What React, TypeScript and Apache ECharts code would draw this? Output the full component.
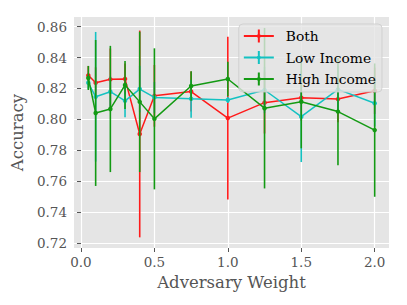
import React, { useEffect, useRef } from "react";
import * as echarts from "echarts";

const weights = [0.05, 0.1, 0.2, 0.3, 0.4, 0.5, 0.75, 1.0, 1.25, 1.5, 1.75, 2.0];

const bothMean = [0.8285, 0.8237, 0.8259, 0.8262, 0.7905, 0.8152, 0.8180, 0.8008, 0.8108, 0.8140, 0.8131, 0.8185];
const bothErr = [0.006, 0.01, 0.02, 0.01, 0.067, 0.02, 0.013, 0.0527, 0.02, 0.015, 0.015, 0.015];

const lowMean = [0.8237, 0.8146, 0.8179, 0.8120, 0.8196, 0.8142, 0.8133, 0.8125, 0.8190, 0.8017, 0.8194, 0.8104];
const lowErr = [0.004, 0.042, 0.01, 0.0107, 0.015, 0.01, 0.0123, 0.002, 0.015, 0.0294, 0.015, 0.015];

const highMean = [0.8268, 0.8041, 0.8067, 0.8222, 0.8113, 0.8003, 0.8216, 0.8261, 0.8072, 0.8114, 0.8050, 0.7930];
const highErr = [0.0078, 0.0473, 0.0409, 0.0156, 0.0455, 0.0457, 0.0095, 0.0112, 0.052, 0.0302, 0.0348, 0.0432];

const seriesNames = ["Both", "Low Income", "High Income"];
const seriesColors = ["#ff1a1a", "#14c2c2", "#139a13"];

const xTicks = [0, 0.5, 1.0, 1.5, 2.0];
const yTicks = [0.72, 0.74, 0.76, 0.78, 0.8, 0.82, 0.84, 0.86];

const FONT = "'DejaVu Serif', serif";
const TEXT = "#555555";

const legendIcon =
  "path://M0,5.5h30v2h-30z M14,0h2v13h-2z M13,6.5a2,2 0 1,1 4,0a2,2 0 1,1 -4,0z";

function buildSeries() {
  const means = [bothMean, lowMean, highMean];
  const errs = [bothErr, lowErr, highErr];
  const out: any[] = [];
  means.forEach((m, i) => {
    const color = seriesColors[i];
    out.push({
      type: "line",
      name: seriesNames[i],
      data: weights.map((w, k) => [w, m[k]]),
      symbol: "circle",
      symbolSize: 4.5,
      showSymbol: true,
      lineStyle: { color, width: 1.5 },
      itemStyle: { color, borderWidth: 0 },
      z: 2 + i * 0.01,
    });
    out.push({
      type: "custom",
      name: seriesNames[i] + " err",
      data: weights.map((w, k) => [w, m[k] - errs[i][k], m[k] + errs[i][k]]),
      encode: { x: 0, y: [1, 2] },
      renderItem: (_params: any, api: any) => {
        const x = api.value(0);
        const p1 = api.coord([x, api.value(1)]);
        const p2 = api.coord([x, api.value(2)]);
        return {
          type: "line",
          shape: { x1: p1[0], y1: p1[1], x2: p2[0], y2: p2[1] },
          style: { stroke: color, lineWidth: 1.6 },
        };
      },
      z: 2 + i * 0.01,
    });
  });
  return out;
}

export default function App() {
  const ref = useRef<HTMLDivElement>(null);
  useEffect(() => {
    if (!ref.current) return;
    const chart = echarts.init(ref.current, undefined, { renderer: "svg" });
    chart.setOption({
      animation: false,
      backgroundColor: "#ffffff",
      grid: {
        left: 74,
        right: 18,
        top: 17,
        bottom: 57,
        show: true,
        backgroundColor: "#E5E5E5",
        borderWidth: 0,
      },
      legend: {
        data: seriesNames.map((n) => ({ name: n, icon: legendIcon })),
        orient: "vertical",
        right: 25,
        top: 24,
        itemWidth: 30,
        itemHeight: 13,
        itemGap: 7.5,
        padding: [5, 6, 6, 5],
        backgroundColor: "rgba(229,229,229,0.8)",
        borderColor: "rgba(204,204,204,0.8)",
        borderWidth: 1,
        borderRadius: 4,
        itemStyle: { borderWidth: 0 },
        textStyle: { fontFamily: FONT, fontSize: 13.8, color: "#000", padding: [0, 0, 0, 7] },
        selectedMode: false,
      },
      xAxis: {
        type: "value",
        min: -0.0475,
        max: 2.0975,
        name: "Adversary Weight",
        nameLocation: "middle",
        nameGap: 22,
        nameTextStyle: { fontFamily: FONT, fontSize: 16.5, color: TEXT },
        axisLine: { show: false },
        axisTick: { show: true, length: 4, lineStyle: { color: TEXT }, customValues: xTicks },
        axisLabel: {
          fontFamily: FONT,
          fontSize: 13.5,
          color: TEXT,
          margin: 7,
          customValues: xTicks,
          formatter: (v: number) => v.toFixed(1),
        },
        splitLine: { show: true, lineStyle: { color: "#ffffff", width: 1.2 } },
      },
      yAxis: {
        type: "value",
        min: 0.7166,
        max: 0.8663,
        name: "Accuracy",
        nameLocation: "middle",
        nameGap: 43,
        nameTextStyle: { fontFamily: FONT, fontSize: 16.5, color: TEXT },
        axisLine: { show: false },
        axisTick: { show: true, length: 4, lineStyle: { color: TEXT }, customValues: yTicks },
        axisLabel: {
          fontFamily: FONT,
          fontSize: 13.5,
          color: TEXT,
          margin: 7,
          customValues: yTicks,
          formatter: (v: number) => v.toFixed(2),
        },
        splitLine: { show: true, lineStyle: { color: "#ffffff", width: 1.2 } },
      },
      series: buildSeries(),
    });
    return () => chart.dispose();
  }, []);
  return (
    <div
      ref={ref}
      style={{ position: "absolute", left: 0, top: 0, width: 407, height: 305 }}
    />
  );
}
